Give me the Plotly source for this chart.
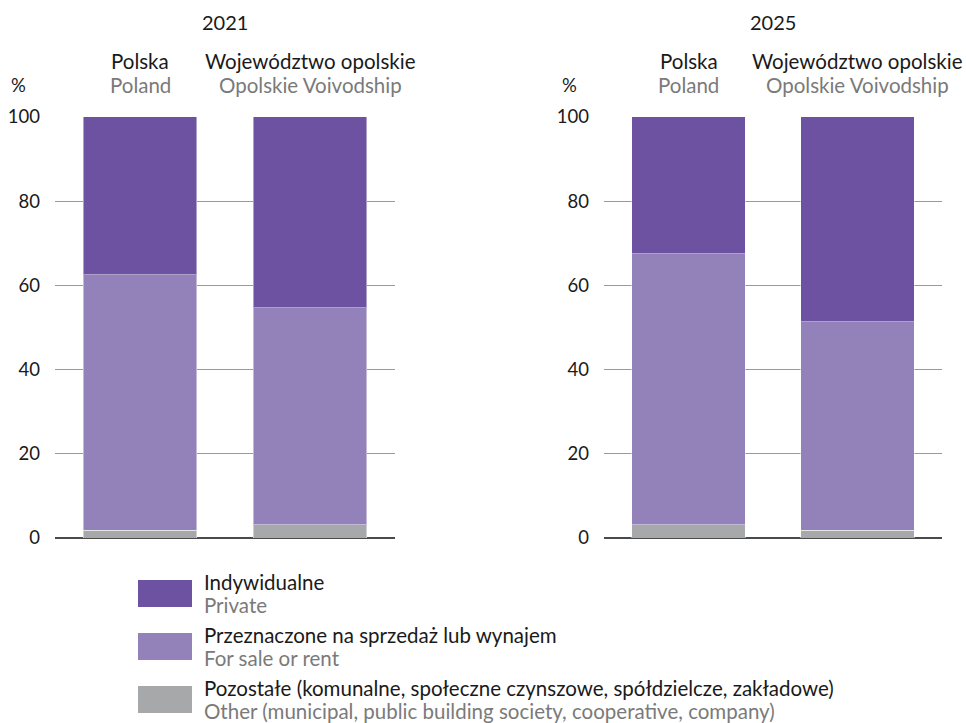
import plotly.graph_objects as go

years = ["2021", "2025"]
regions_pl = ["Polska", "Województwo opolskie"]
regions_en = ["Poland", "Opolskie Voivodship"]
series_pl = ["Indywidualne", "Przeznaczone na sprzedaż lub wynajem",
             "Pozostałe (komunalne, społeczne czynszowe, spółdzielcze, zakładowe)"]
series_en = ["Private", "For sale or rent",
             "Other (municipal, public building society, cooperative, company)"]

other_2021 = [1.9, 3.1]
sale_2021 = [60.6, 51.6]
private_2021 = [37.5, 45.3]
other_2025 = [3.2, 1.9]
sale_2025 = [64.3, 49.5]
private_2025 = [32.5, 48.6]

y_ticks = [0, 20, 40, 60, 80, 100]

colors = {"private": "#6D52A1", "sale": "#9381BA", "other": "#A7A8AA"}
FONT = "Lato, 'Open Sans', sans-serif"
W, H = 966, 723


def px(x):
    return x / W


def py(y):
    return 1 - y / H


fig = go.Figure()
data = [
    (other_2021, sale_2021, private_2021, "x", "y"),
    (other_2025, sale_2025, private_2025, "x2", "y2"),
]
for oth, sal, pri, xa, ya in data:
    for vals, key in [(oth, "other"), (sal, "sale"), (pri, "private")]:
        fig.add_trace(go.Bar(
            x=[0, 1], y=vals, xaxis=xa, yaxis=ya, width=0.67,
            marker=dict(color=colors[key], line=dict(color="rgba(255,255,255,0.45)", width=1)),
            showlegend=False, hoverinfo="skip"))

fig.update_layout(barmode="stack")

ydom = [py(538), py(116)]
axcommon_y = dict(range=[0, 100.2], tickvals=y_ticks, showgrid=True, gridcolor="#9a9a9a",
                  gridwidth=1, zeroline=True, zerolinecolor="#4a4a4a", zerolinewidth=2,
                  showline=False, ticks="", ticklabelstandoff=14, automargin=False,
                  tickfont=dict(family=FONT, size=18.5, color="#1a1a1a"), domain=ydom)
axcommon_x = dict(range=[-0.5, 1.5], showgrid=False, zeroline=False, showticklabels=False,
                  showline=False, ticks="", automargin=False)
fig.update_layout(
    xaxis=dict(domain=[px(55), px(395)], anchor="y", **axcommon_x),
    yaxis=dict(anchor="x", **axcommon_y),
    xaxis2=dict(domain=[px(604), px(942)], anchor="y2", **axcommon_x),
    yaxis2=dict(anchor="x2", **axcommon_y),
    width=W, height=H, margin=dict(l=0, r=0, t=0, b=0, autoexpand=False),
    plot_bgcolor="white", paper_bgcolor="white",
)

ann = []
for i, (xa, year, pctx, yearx) in enumerate([("x", years[0], 18, 225),
                                               ("x2", years[1], 569, 773)]):
    ann.append(dict(text=year, xref="paper", yref="paper", x=px(yearx), y=py(22),
                    showarrow=False, font=dict(family=FONT, size=20, color="#1a1a1a"),
                    xanchor="center", yanchor="middle"))
    ann.append(dict(text="%", xref="paper", yref="paper", x=px(pctx), y=py(85),
                    showarrow=False, font=dict(family=FONT, size=18.5, color="#1a1a1a"),
                    xanchor="center", yanchor="middle"))
    for j in range(2):
        ann.append(dict(text=regions_pl[j], xref=xa, yref="paper", x=j, y=py(61),
                        showarrow=False, font=dict(family=FONT, size=20.5, color="#1a1a1a"),
                        xanchor="center", yanchor="middle"))
        ann.append(dict(text=regions_en[j], xref=xa, yref="paper", x=j, y=py(85),
                        showarrow=False, font=dict(family=FONT, size=20.5, color="#7a7a7a"),
                        xanchor="center", yanchor="middle"))

shapes = []
leg_colors = [colors["private"], colors["sale"], colors["other"]]
leg_top = [580, 633, 686]
for k in range(3):
    t = leg_top[k]
    shapes.append(dict(type="rect", xref="paper", yref="paper",
                       x0=px(138), x1=px(192), y0=py(t + 27), y1=py(t),
                       fillcolor=leg_colors[k], line=dict(width=0)))
    ann.append(dict(text=series_pl[k], xref="paper", yref="paper", x=px(202), y=py(t + 2),
                    showarrow=False, font=dict(family=FONT, size=20.5, color="#1a1a1a"),
                    xanchor="left", yanchor="middle"))
    ann.append(dict(text=series_en[k], xref="paper", yref="paper", x=px(202), y=py(t + 25),
                    showarrow=False, font=dict(family=FONT, size=20.5, color="#7a7a7a"),
                    xanchor="left", yanchor="middle"))

fig.update_layout(annotations=ann, shapes=shapes)
fig.write_html("out.html", config={"displayModeBar": False},
               post_script="document.body.style.margin='0';document.body.style.overflow='hidden';")
